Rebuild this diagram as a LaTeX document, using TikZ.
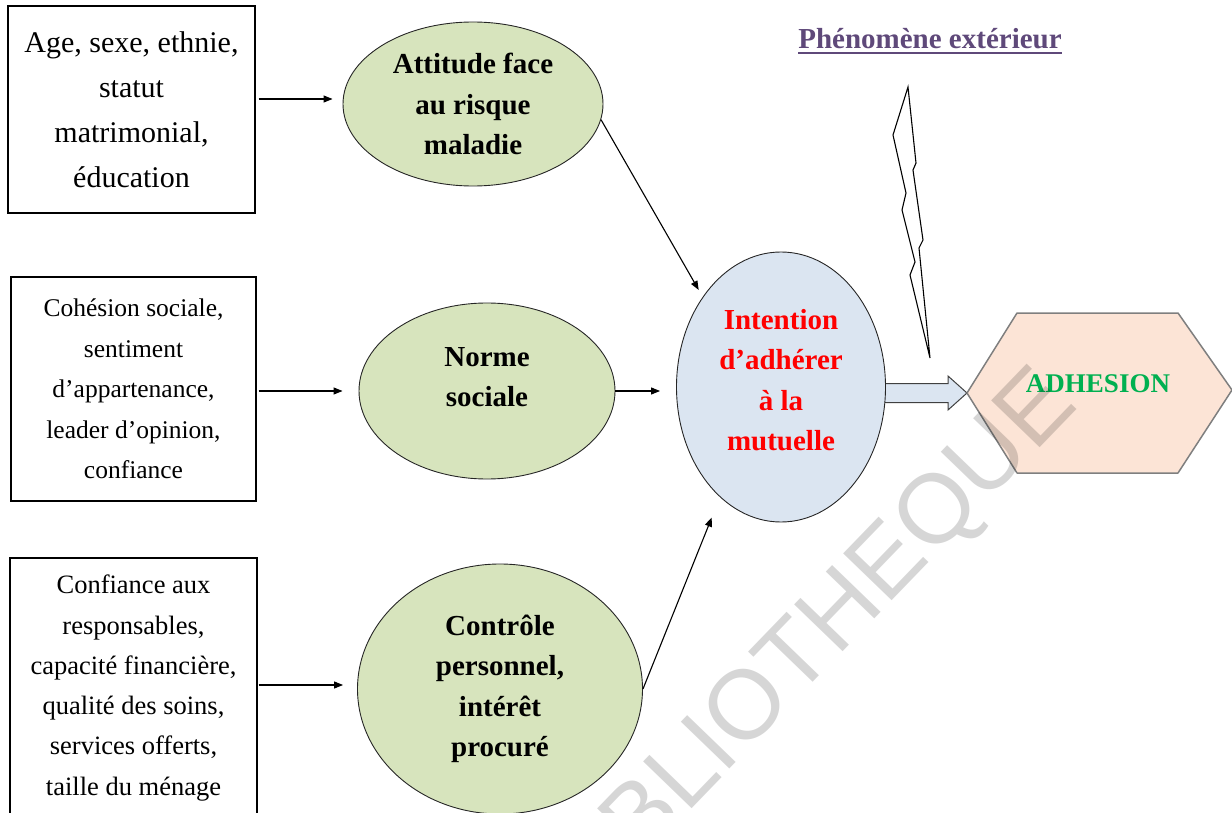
\documentclass[tikz,border=0pt]{standalone}
\usepackage{fontspec}
\setmainfont{Liberation Serif}
\newfontfamily\wmfont{Liberation Sans}
\usetikzlibrary{shapes.geometric,arrows.meta,calc,backgrounds}
\definecolor{ellgreen}{HTML}{D7E4BD}
\definecolor{ellblue}{HTML}{DBE5F1}
\definecolor{hexfill}{HTML}{FCE4D6}
\definecolor{adhgreen}{HTML}{00B050}
\definecolor{titlepurple}{HTML}{5F497A}
\definecolor{edgegray}{HTML}{7F7F7F}
\tikzset{
  box/.style={draw=black, line width=1.2pt, inner sep=0pt, align=center},
  ell/.style={ellipse, draw=black!85, line width=0.9pt, inner sep=0pt, align=center,
    font=\bfseries\fontsize{29}{40.5}\selectfont},
  btext/.style={inner sep=0pt, align=center, font=\bfseries\fontsize{29}{40.5}\selectfont},
  arr/.style={-{Triangle[length=9pt,width=7pt]}, line width=1.1pt},
  blockarrow/.style={fill=ellblue, draw=black!75, line width=1pt, line join=miter},
  hexshape/.style={fill=hexfill, draw=edgegray, line width=1.5pt, line join=round},
  bolt/.style={fill=white, draw=black, line width=1.1pt, line join=miter}
}
\begin{document}
\begin{tikzpicture}[x=1pt,y=-1pt]
\useasboundingbox (0,0) rectangle (1232,813);
\clip (0,0) rectangle (1232,813);

% left boxes
\node[box, minimum width=247pt, minimum height=207pt,
  font=\fontsize{30}{45}\selectfont] (box1) at (131.5,109.5)
  {Age, sexe, ethnie,\\statut\\matrimonial,\\éducation};
\node[box, minimum width=245pt, minimum height=224pt,
  font=\fontsize{25.5}{40.5}\selectfont] (box2) at (133.5,389)
  {Cohésion sociale,\\sentiment\\d’appartenance,\\leader d’opinion,\\confiance};
\node[box, minimum width=247pt, minimum height=260pt,
  font=\fontsize{26.5}{40.3}\selectfont] (box3) at (133.5,688)
  {Confiance aux\\responsables,\\capacité financière,\\qualité des soins,\\services offerts,\\taille du ménage};

% hexagon
\draw[hexshape] (967,393) -- (1017,313) -- (1178,313) -- (1232,390) -- (1178,473) -- (1017,473) -- cycle;
\coordinate (adhL) at (967,393);
\node[btext, text=adhgreen, font=\bfseries\fontsize{27}{32}\selectfont] (adh) at (1098,384) {ADHESION};

% ellipses
\node[ell, fill=ellgreen, minimum width=260pt, minimum height=164pt] (att) at (473,104)
  {Attitude face\\au risque\\maladie};
\node[ell, fill=ellgreen, minimum width=256pt, minimum height=176pt] (norme) at (487,391) {};
\node[btext] (normetxt) at (487,377) {Norme\\sociale};
\node[ell, fill=ellgreen, minimum width=285pt, minimum height=250pt] (ctrl) at (500,689)
  {Contrôle\\personnel,\\intérêt\\procuré};
\node[ell, fill=ellblue, minimum width=209pt, minimum height=270pt] (int) at (781,387) {};
\node[btext, text=red] (inttxt) at (781,380) {Intention\\d’adhérer\\à la\\mutuelle};

% block arrow (behind the ellipse)
\begin{scope}[on background layer]
\path[blockarrow] ($(int.east |- adhL)+(-12,-9.5)$) -- ($(adhL)+(-19,-9.5)$) -- ($(adhL)+(-19,-17)$)
  -- (adhL) -- ($(adhL)+(-19,17)$) -- ($(adhL)+(-19,9.5)$) -- ($(int.east |- adhL)+(-12,9.5)$) -- cycle;
\end{scope}

% connectors
\draw[arr] ([xshift=3pt,yshift=10.5pt]box1.east) -- ([xshift=-10pt,yshift=5pt]att.west);
\draw[arr] ([xshift=2pt,yshift=-2pt]box2.east) -- ([xshift=-16pt]norme.west);
\draw[arr] ([xshift=1pt,yshift=3pt]box3.east) -- ([xshift=-14pt,yshift=4pt]ctrl.west);
\draw[arr, shorten >=8pt] (att.-7) -- (int.131.5);
\draw[arr, shorten >=16pt] (norme.east) -- (norme.east -| int.west);
\draw[arr, shorten >=22pt] (ctrl.east) -- (int.241.4);

% lightning bolt
\draw[bolt] (908,87) -- (893,135) -- (906,193) -- (902,210) -- (915,262) -- (910,275) -- (930,358)
  -- (919,248) -- (923,240) -- (913,170) -- (916,163) -- cycle;

% title
\node[inner sep=0pt, anchor=base, text=titlepurple, font=\bfseries\fontsize{29}{34}\selectfont]
  (title) at (930,49) {Phénomène extérieur};
\draw[titlepurple, line width=2pt] ([yshift=-4.5pt]title.base west) -- ([yshift=-4.5pt]title.base east);

% watermark
\node[rotate=46, text=black, text opacity=0.16, inner sep=0pt,
  font=\wmfont\fontsize{98}{98}\selectfont] (wm) at (810,650) {BIBLIOTHEQUE};
\end{tikzpicture}
\end{document}
